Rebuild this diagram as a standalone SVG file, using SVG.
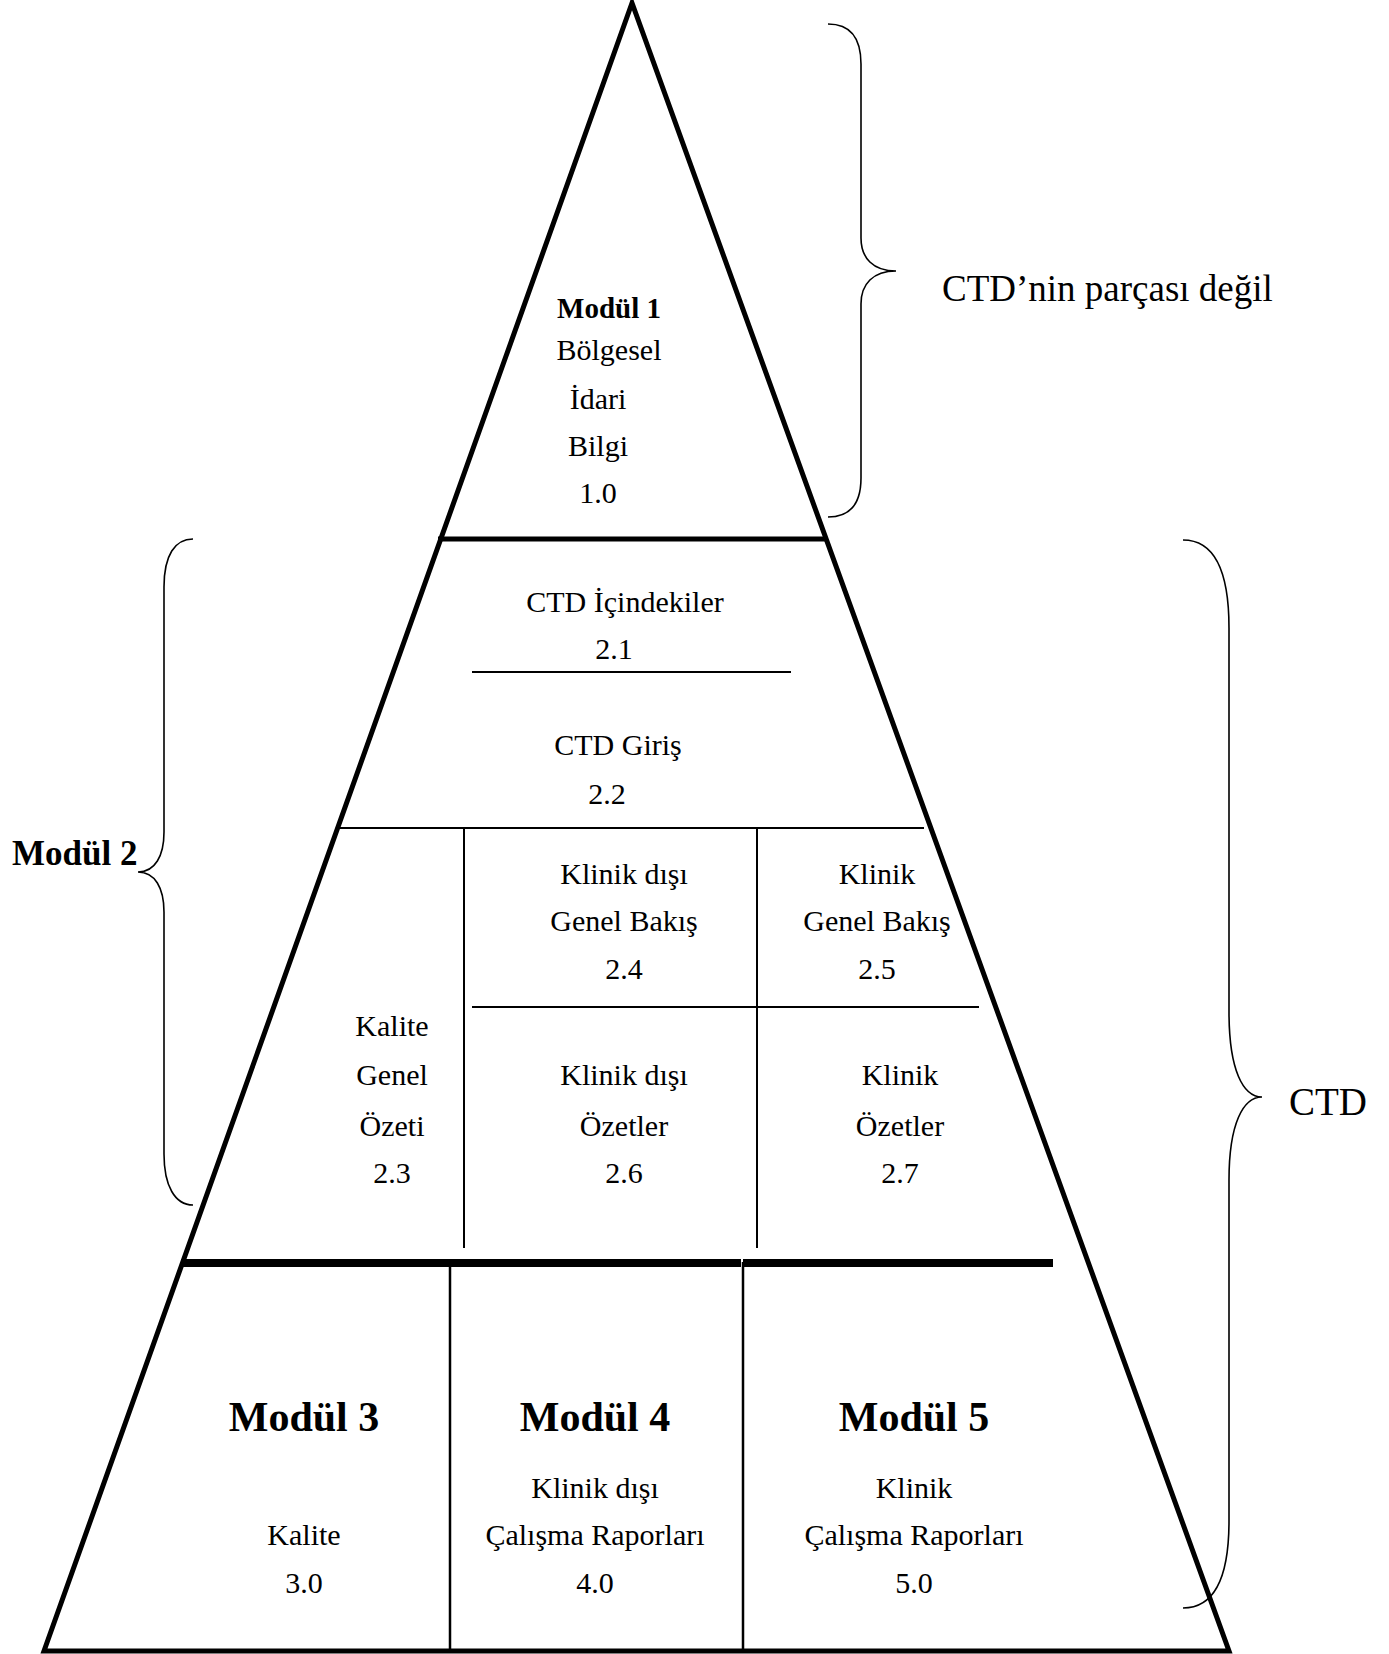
<svg xmlns="http://www.w3.org/2000/svg" width="1389" height="1654" viewBox="0 0 1389 1654">
<style>
text{font-family:"Liberation Serif","Times New Roman",serif;fill:#000;text-anchor:middle}
.b{font-size:30px}
.bold{font-weight:bold}
.m1{font-size:29px;font-weight:bold}
.big{font-size:42px;font-weight:bold}
.lbl{font-size:37px;text-anchor:start}
.thin{stroke:#000;stroke-width:2;fill:none}
.brace{stroke:#000;stroke-width:1.6;fill:none}
</style>
<rect width="1389" height="1654" fill="#fff"/>
<g id="connectors">
<polygon points="632,3 44,1651 1229,1651" fill="none" stroke="#000" stroke-width="5" stroke-linejoin="miter"/>
<line x1="438" y1="539" x2="827" y2="539" stroke="#000" stroke-width="5"/>
<line x1="472" y1="672" x2="791" y2="672" class="thin"/>
<line x1="339" y1="828" x2="924" y2="828" class="thin"/>
<line x1="464" y1="828" x2="464" y2="1248" class="thin"/>
<line x1="757" y1="828" x2="757" y2="1248" class="thin"/>
<line x1="472" y1="1007" x2="979" y2="1007" class="thin"/>
<line x1="181" y1="1263" x2="741" y2="1263" stroke="#000" stroke-width="8"/>
<line x1="743" y1="1263" x2="1053" y2="1263" stroke="#000" stroke-width="8"/>
<line x1="450" y1="1262" x2="450" y2="1651" stroke="#000" stroke-width="2.5"/>
<line x1="743" y1="1262" x2="743" y2="1651" stroke="#000" stroke-width="2.5"/>
</g>
<g id="brace-not-ctd">
<path class="brace" d="M828,24 C850,24 861,38 861,64 L861,238 C861,258 873,271 896,271 C873,271 861,284 861,304 L861,478 C861,504 850,517 828,517"/>
<text class="lbl" x="942" y="301">CTD’nin parçası değil</text>
</g>
<g id="brace-modul2">
<path class="brace" d="M193,539 C175,539 164,555 164,587 L164,832 C164,856 155,872 138,872 C155,872 164,888 164,912 L164,1154 C164,1186 175,1205 193,1205"/>
<text class="bold" x="12" y="865" style="font-size:35px;text-anchor:start">Modül 2</text>
</g>
<g id="brace-ctd">
<path class="brace" d="M1183,540 C1212,540 1229,565 1229,628 L1229,1012 C1229,1070 1243,1097 1262,1097 C1243,1097 1229,1124 1229,1180 L1229,1521 C1229,1583 1212,1608 1183,1608"/>
<text class="lbl" x="1289" y="1115" style="font-size:39px">CTD</text>
</g>
<g id="modul1">
<text class="m1" x="609" y="318">Modül 1</text>
<text class="b" x="609" y="360">Bölgesel</text>
<text class="b" x="598" y="409">İdari</text>
<text class="b" x="598" y="456">Bilgi</text>
<text class="b" x="598" y="503">1.0</text>
</g>
<g id="n2-1">
<text class="b" x="625" y="612">CTD İçindekiler</text>
<text class="b" x="614" y="659">2.1</text>
</g>
<g id="n2-2">
<text class="b" x="618" y="755">CTD Giriş</text>
<text class="b" x="607" y="804">2.2</text>
</g>
<g id="n2-3">
<text class="b" x="392" y="1036">Kalite</text>
<text class="b" x="392" y="1085">Genel</text>
<text class="b" x="392" y="1136">Özeti</text>
<text class="b" x="392" y="1183">2.3</text>
</g>
<g id="n2-4">
<text class="b" x="624" y="884">Klinik dışı</text>
<text class="b" x="624" y="931">Genel Bakış</text>
<text class="b" x="624" y="979">2.4</text>
</g>
<g id="n2-5">
<text class="b" x="877" y="884">Klinik</text>
<text class="b" x="877" y="931">Genel Bakış</text>
<text class="b" x="877" y="979">2.5</text>
</g>
<g id="n2-6">
<text class="b" x="624" y="1085">Klinik dışı</text>
<text class="b" x="624" y="1136">Özetler</text>
<text class="b" x="624" y="1183">2.6</text>
</g>
<g id="n2-7">
<text class="b" x="900" y="1085">Klinik</text>
<text class="b" x="900" y="1136">Özetler</text>
<text class="b" x="900" y="1183">2.7</text>
</g>
<g id="modul3">
<text class="big" x="304" y="1431">Modül 3</text>
<text class="b" x="304" y="1545">Kalite</text>
<text class="b" x="304" y="1593">3.0</text>
</g>
<g id="modul4">
<text class="big" x="595" y="1431">Modül 4</text>
<text class="b" x="595" y="1498">Klinik dışı</text>
<text class="b" x="595" y="1545">Çalışma Raporları</text>
<text class="b" x="595" y="1593">4.0</text>
</g>
<g id="modul5">
<text class="big" x="914" y="1431">Modül 5</text>
<text class="b" x="914" y="1498">Klinik</text>
<text class="b" x="914" y="1545">Çalışma Raporları</text>
<text class="b" x="914" y="1593">5.0</text>
</g>
</svg>
